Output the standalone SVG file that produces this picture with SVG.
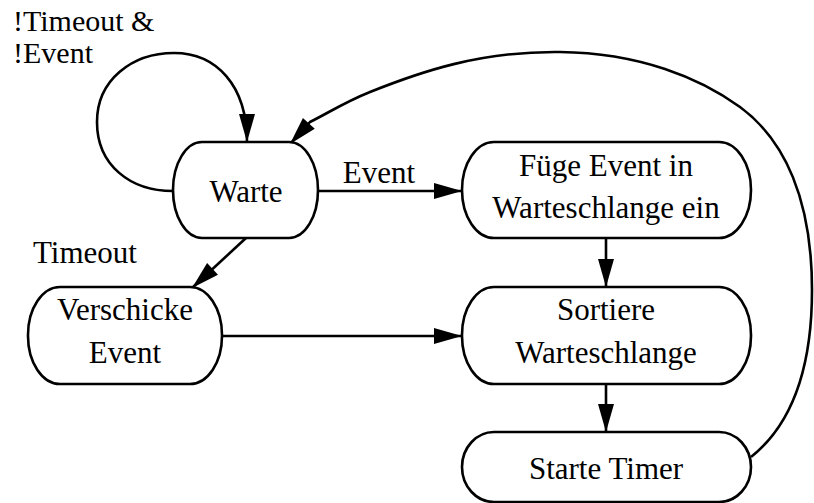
<svg xmlns="http://www.w3.org/2000/svg" width="814" height="503" viewBox="0 0 814 503" font-family="'Liberation Serif', 'DejaVu Serif', serif">
  <style>
    .node { fill: #ffffff; stroke: #000000; stroke-width: 2.6; }
    .edge { fill: none; stroke: #000000; stroke-width: 2.6; marker-end: url(#arrow); }
    .t { font-family: 'Liberation Serif', 'DejaVu Serif', serif; font-size: 31px; fill: #000000; }
    .s { font-size: 30px; }
    .c { text-anchor: middle; }
  </style>
  <defs>
    <marker id="arrow" markerUnits="userSpaceOnUse" markerWidth="28" markerHeight="16" refX="28" refY="8" orient="auto" overflow="visible">
      <path d="M0,0 L28,8 L0,16 Z" fill="#000000"/>
    </marker>
  </defs>

  <!-- transitions -->
  <g id="connectors">
    <path class="edge" d="M173,191 C130,191 97,165 97,122 C97,80 132,53 174,53 C216,53 247,85 247,142"/>
    <path class="edge" d="M318,191 L462,191"/>
    <path class="edge" d="M246,238 L192,288"/>
    <path class="edge" d="M222,336 L462,336"/>
    <path class="edge" d="M606,238 L606,287"/>
    <path class="edge" d="M606,384 L606,432"/>
    <path class="edge" d="M751,457 C785,430 812,380 812,290 C812,200 785,140 740,107 C700,78 640,53 560,52 C480,51 420,72 370,92 C345,102 330,112 310,122 L290,144"/>
  </g>

  <!-- transition labels -->
  <g id="labels">
    <text class="t s" x="13" y="31">!Timeout &amp;</text>
    <text class="t s" x="13" y="63">!Event</text>
    <text class="t c" x="379" y="183">Event</text>
    <text class="t" x="33" y="263">Timeout</text>
  </g>

  <!-- states -->
  <g id="warte">
    <rect class="node" x="173" y="142" width="145" height="96" rx="29" ry="48"/>
    <text class="t c" x="246" y="202">Warte</text>
  </g>
  <g id="fuege-event">
    <rect class="node" x="462" y="142" width="289" height="96" rx="32" ry="48"/>
    <text class="t c" x="606" y="176">Füge Event in</text>
    <text class="t c" x="606" y="218">Warteschlange ein</text>
  </g>
  <g id="verschicke-event">
    <rect class="node" x="28" y="287" width="194" height="97" rx="32" ry="48"/>
    <text class="t c" x="125" y="320">Verschicke</text>
    <text class="t c" x="125" y="363">Event</text>
  </g>
  <g id="sortiere">
    <rect class="node" x="462" y="287" width="289" height="97" rx="32" ry="48"/>
    <text class="t c" x="606" y="320">Sortiere</text>
    <text class="t c" x="606" y="363">Warteschlange</text>
  </g>
  <g id="starte-timer">
    <rect class="node" x="462" y="432" width="289" height="70" rx="32" ry="35"/>
    <text class="t c" x="606" y="479">Starte Timer</text>
  </g>
</svg>
